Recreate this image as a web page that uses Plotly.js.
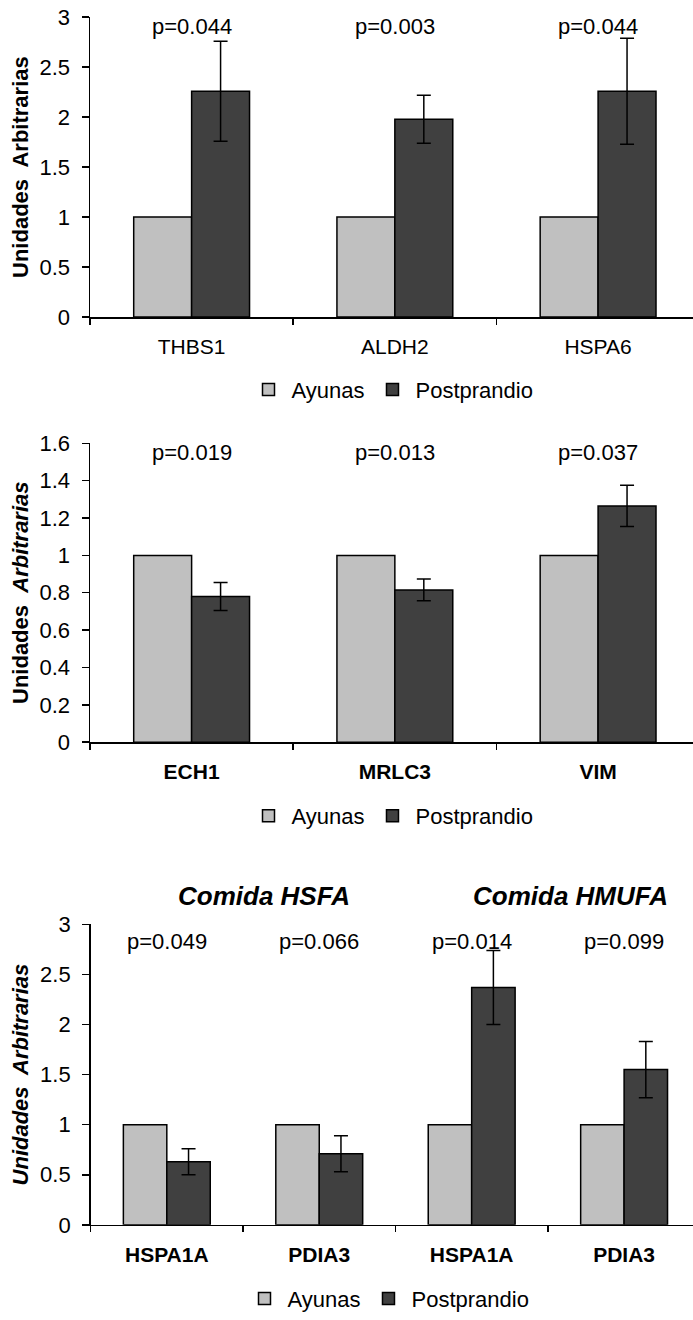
<!DOCTYPE html>
<html>
<head>
<meta charset="utf-8">
<script src="https://cdn.plot.ly/plotly-3.0.1.min.js"></script>
<style>html,body{margin:0;padding:0;background:#fff;}#chart{width:693px;height:1320px;}</style>
</head>
<body>
<div id="chart"></div>
<script>
// ---------- data ----------
const seriesNames = ['Ayunas', 'Postprandio'];

const categories1 = ['THBS1', 'ALDH2', 'HSPA6'];
const ayunas1 = [1, 1, 1];
const post1 = [2.26, 1.98, 2.26];
const postErr1 = [0.50, 0.24, 0.53];
const pLabels1 = ['p=0.044', 'p=0.003', 'p=0.044'];

const categories2 = ['ECH1', 'MRLC3', 'VIM'];
const ayunas2 = [1, 1, 1];
const post2 = [0.78, 0.815, 1.265];
const postErr2 = [0.075, 0.058, 0.11];
const pLabels2 = ['p=0.019', 'p=0.013', 'p=0.037'];

const groups3 = ['Comida HSFA', 'Comida HSFA', 'Comida HMUFA', 'Comida HMUFA'];
const tickLabels3 = ['HSPA1A', 'PDIA3', 'HSPA1A', 'PDIA3'];
const ayunas3 = [1, 1, 1, 1];
const post3 = [0.63, 0.71, 2.37, 1.55];
const postErr3 = [0.13, 0.18, 0.37, 0.28];
const pLabels3 = ['p=0.049', 'p=0.066', 'p=0.014', 'p=0.099'];
const groupTitles3 = ['Comida HSFA', 'Comida HMUFA'];

const yTitles = ['<b>Unidades  Arbitrarias</b>', '<b>Unidades  <i>Arbitrarias</i></b>', '<b><i>Unidades  Arbitrarias</i></b>'];
const pY = [2.905, 1.55, 2.83];

// ---------- styles ----------
const FONT = 'Liberation Sans, Arial, Helvetica, sans-serif';
const colAy = '#c0c0c0';
const colPo = '#404040';
const categories3 = groups3.map((g, i) => g + ' | ' + tickLabels3[i]);

function barTrace(name, x, y, color, xa, ya, legendId, err) {
  const t = {
    type: 'bar', name: name, x: x, y: y, xaxis: xa, yaxis: ya,
    marker: {color: color, line: {color: '#000', width: 1.5}},
    legend: legendId, showlegend: true, hoverinfo: 'skip'
  };
  if (err) {
    t.error_y = {type: 'data', array: err, visible: true, color: '#000', thickness: 1.5, width: 7};
  }
  return t;
}

const data = [
  barTrace(seriesNames[0], categories1, ayunas1, colAy, 'x', 'y', 'legend'),
  barTrace(seriesNames[1], categories1, post1, colPo, 'x', 'y', 'legend', postErr1),
  barTrace(seriesNames[0], categories2, ayunas2, colAy, 'x2', 'y2', 'legend2'),
  barTrace(seriesNames[1], categories2, post2, colPo, 'x2', 'y2', 'legend2', postErr2),
  barTrace(seriesNames[0], categories3, ayunas3, colAy, 'x3', 'y3', 'legend3'),
  barTrace(seriesNames[1], categories3, post3, colPo, 'x3', 'y3', 'legend3', postErr3)
];

function xAxis(domain, range, anchor, bold, extra) {
  return Object.assign({
    domain: domain, range: range, type: 'category', anchor: anchor,
    tickson: 'boundaries', ticks: 'outside', ticklen: 6, tickwidth: 1.5, tickcolor: '#000',
    showline: true, linecolor: '#000', linewidth: 1.5, showgrid: false, zeroline: false,
    tickfont: {family: FONT, size: 21, color: '#000', weight: bold ? 'bold' : 'normal'},
    ticklabelstandoff: 10, fixedrange: true
  }, extra || {});
}
function yAxis(domain, range, dtick, anchor, title) {
  return {
    domain: domain, range: range, dtick: dtick, tick0: 0, anchor: anchor,
    ticks: 'outside', ticklen: 7, tickwidth: 1.5, tickcolor: '#000',
    showline: true, linecolor: '#000', linewidth: 1.5, showgrid: false, zeroline: false,
    tickfont: {family: FONT, size: 22, color: '#000'},
    ticklabelstandoff: 7,
    title: {text: title, font: {family: FONT, size: 22, color: '#000'}, standoff: 5},
    fixedrange: true
  };
}

const H = 1320, W = 693;
const py = (px) => 1 - px / H;
const px = (p) => p / W;

const annotations = [];
[[categories1, pLabels1, 'x', 'y', pY[0]], [categories2, pLabels2, 'x2', 'y2', pY[1]], [categories3, pLabels3, 'x3', 'y3', pY[2]]]
  .forEach(([cats, labels, xr, yr, yv]) => {
    cats.forEach((c, i) => annotations.push({
      xref: xr, yref: yr, x: c, y: yv, text: labels[i], showarrow: false,
      xanchor: 'center', yanchor: 'middle', font: {family: FONT, size: 22, color: '#000'}
    }));
  });
const groupTitleX = [264, 570];
groupTitles3.forEach((g, i) => annotations.push({
  xref: 'paper', yref: 'paper', x: px(groupTitleX[i]), y: py(901), text: '<b><i>' + g + '</i></b>',
  showarrow: false, xanchor: 'center', yanchor: 'middle', font: {family: FONT, size: 26, color: '#000'}
}));

function legendCfg(xc, yc) {
  return {
    orientation: 'h', x: px(xc), xanchor: 'center', y: py(yc), yanchor: 'middle',
    font: {family: FONT, size: 22, color: '#000'}, bgcolor: 'rgba(0,0,0,0)',
    itemwidth: 36, itemclick: false, itemdoubleclick: false, traceorder: 'normal'
  };
}

const layout = {
  width: W, height: H, autosize: false,
  margin: {l: 0, r: 0, t: 0, b: 0, pad: 0},
  paper_bgcolor: '#fff', plot_bgcolor: '#fff',
  font: {family: FONT, size: 20, color: '#000'},
  barmode: 'group', bargap: 0.43, bargroupgap: 0,
  xaxis: xAxis([px(90), 1], [-0.5, 2.467], 'y', false),
  yaxis: yAxis([py(319), py(17.3)], [0, 3], 0.5, 'x', yTitles[0]),
  xaxis2: xAxis([px(90), 1], [-0.5, 2.467], 'y2', true),
  yaxis2: yAxis([py(746.7), py(446)], [0, 1.6], 0.2, 'x2', yTitles[1]),
  xaxis3: xAxis([px(90.6), 1], [-0.5, 3.452], 'y3', true, {tickmode: 'array', tickvals: categories3, ticktext: tickLabels3}),
  yaxis3: yAxis([py(1232.3), py(930)], [0, 3], 0.5, 'x3', yTitles[2]),
  legend: legendCfg(392, 392),
  legend2: legendCfg(392, 821),
  legend3: legendCfg(388, 1306.7),
  annotations: annotations,
  showlegend: true
};

Plotly.newPlot('chart', data, layout, {displayModeBar: false, staticPlot: true});
</script>
</body>
</html>
